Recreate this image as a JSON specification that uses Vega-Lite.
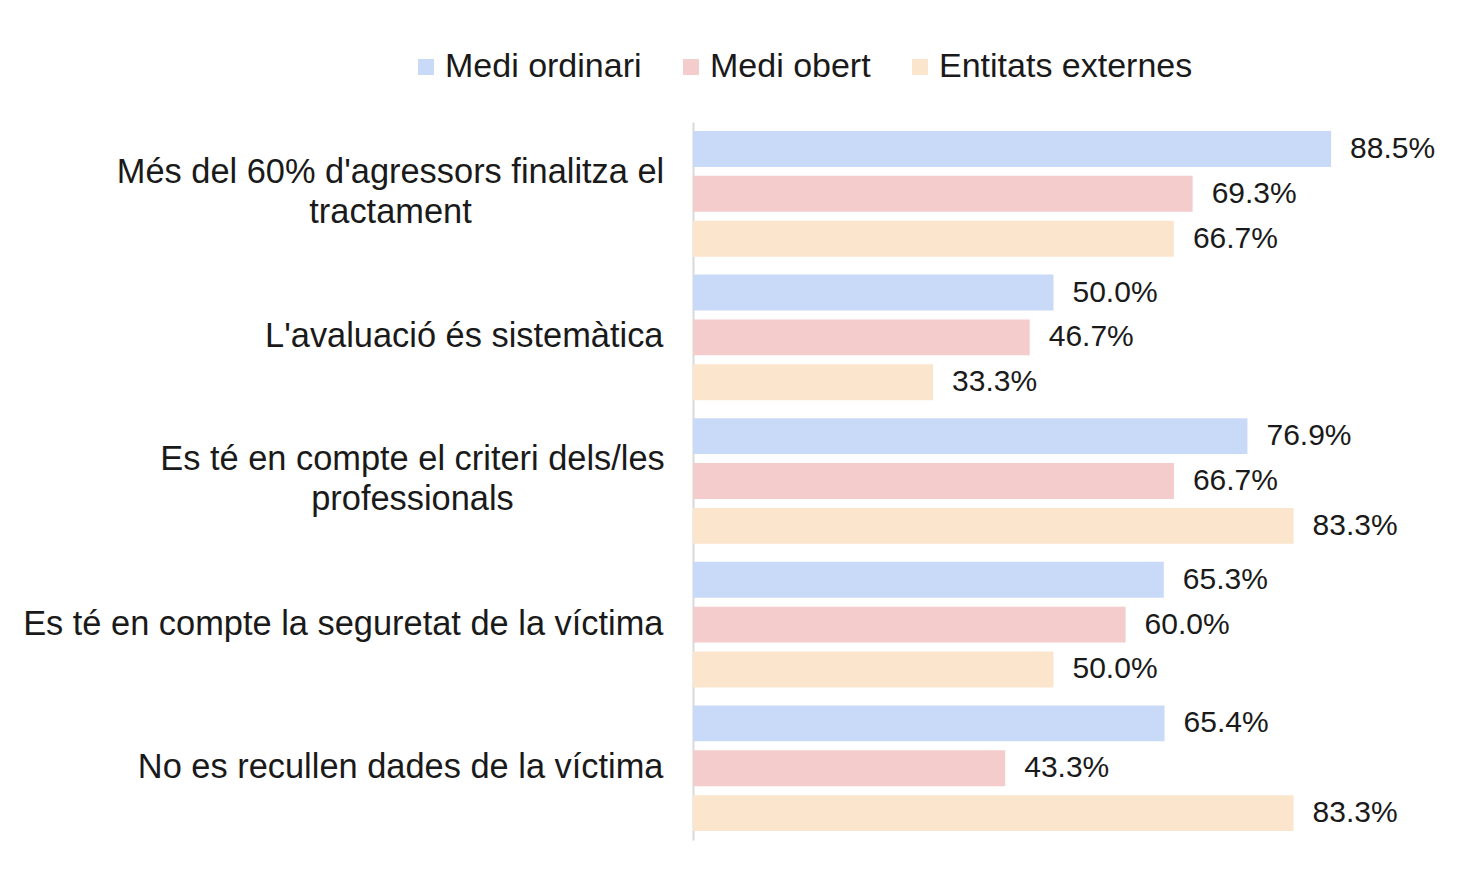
{
  "$schema": "https://vega.github.io/schema/vega-lite/v6.json",
  "autosize": {"type": "none"},
  "padding": {"left": 693, "top": 122, "right": 49, "bottom": 32},
  "width": 721,
  "height": 718,
  "background": "white",
  "config": {"view": {"stroke": null}, "font": "Liberation Sans"},
  "data": {"values": [
    {"cat": "Més del 60% d'agressors finalitza el|tractament", "serie": "Medi ordinari", "v": 0.885},
    {"cat": "Més del 60% d'agressors finalitza el|tractament", "serie": "Medi obert", "v": 0.693},
    {"cat": "Més del 60% d'agressors finalitza el|tractament", "serie": "Entitats externes", "v": 0.667},
    {"cat": "L'avaluació és sistemàtica", "serie": "Medi ordinari", "v": 0.5},
    {"cat": "L'avaluació és sistemàtica", "serie": "Medi obert", "v": 0.467},
    {"cat": "L'avaluació és sistemàtica", "serie": "Entitats externes", "v": 0.333},
    {"cat": "Es té en compte el criteri dels/les|professionals", "serie": "Medi ordinari", "v": 0.769},
    {"cat": "Es té en compte el criteri dels/les|professionals", "serie": "Medi obert", "v": 0.667},
    {"cat": "Es té en compte el criteri dels/les|professionals", "serie": "Entitats externes", "v": 0.833},
    {"cat": "Es té en compte la seguretat de la víctima", "serie": "Medi ordinari", "v": 0.653},
    {"cat": "Es té en compte la seguretat de la víctima", "serie": "Medi obert", "v": 0.6},
    {"cat": "Es té en compte la seguretat de la víctima", "serie": "Entitats externes", "v": 0.5},
    {"cat": "No es recullen dades de la víctima", "serie": "Medi ordinari", "v": 0.654},
    {"cat": "No es recullen dades de la víctima", "serie": "Medi obert", "v": 0.433},
    {"cat": "No es recullen dades de la víctima", "serie": "Entitats externes", "v": 0.833}
  ]},
  "encoding": {
    "y": {
      "field": "cat", "type": "nominal", "sort": null,
      "scale": {"paddingInner": 0, "paddingOuter": 0},
      "axis": {
        "title": null, "ticks": false, "grid": false,
        "domainColor": "#d9d9d9", "domainWidth": 2,
        "labelFont": "Liberation Sans", "labelFontSize": 34.4, "labelColor": "#1a1a1a",
        "labelLimit": 0, "labelLineHeight": 40,
        "labelExpr": "split(datum.label, '|')",
        "labelAlign": {"condition": {"test": "indexof(datum.value, '|') >= 0", "value": "center"}, "value": "right"},
        "labelOffset": {"condition": {"test": "indexof(datum.value, '|') >= 0", "value": -21}, "value": 0},
        "labelPadding": {"condition": [
          {"test": "indexof(datum.value, 'Més del') >= 0", "value": 303},
          {"test": "indexof(datum.value, 'criteri') >= 0", "value": 281}
        ], "value": 30}
      }
    },
    "yOffset": {
      "field": "serie", "type": "nominal", "sort": ["Medi ordinari", "Medi obert", "Entitats externes"],
      "scale": {"paddingInner": 0.2, "paddingOuter": 0.2}
    },
    "x": {"field": "v", "type": "quantitative", "scale": {"domain": [0, 1]}, "axis": null}
  },
  "layer": [
    {
      "mark": {"type": "bar"},
      "encoding": {
        "color": {
          "field": "serie", "type": "nominal",
          "scale": {"domain": ["Medi ordinari", "Medi obert", "Entitats externes"], "range": ["#c9daf8", "#f4cccc", "#fce5cd"]},
          "legend": {
            "title": null, "orient": "none", "direction": "horizontal",
            "legendX": -284, "legendY": -72,
            "symbolType": "square", "symbolSize": 256, "symbolStrokeWidth": 0,
            "labelFont": "Liberation Sans", "labelFontSize": 34, "labelColor": "#1a1a1a",
            "labelOffset": 2, "columnPadding": 32, "labelLimit": 0
          }
        }
      }
    },
    {
      "mark": {"type": "text", "align": "left", "baseline": "middle", "dx": 19, "font": "Liberation Sans", "fontSize": 30, "color": "#1a1a1a"},
      "encoding": {"text": {"field": "v", "type": "quantitative", "format": ".1%"}}
    }
  ]
}
